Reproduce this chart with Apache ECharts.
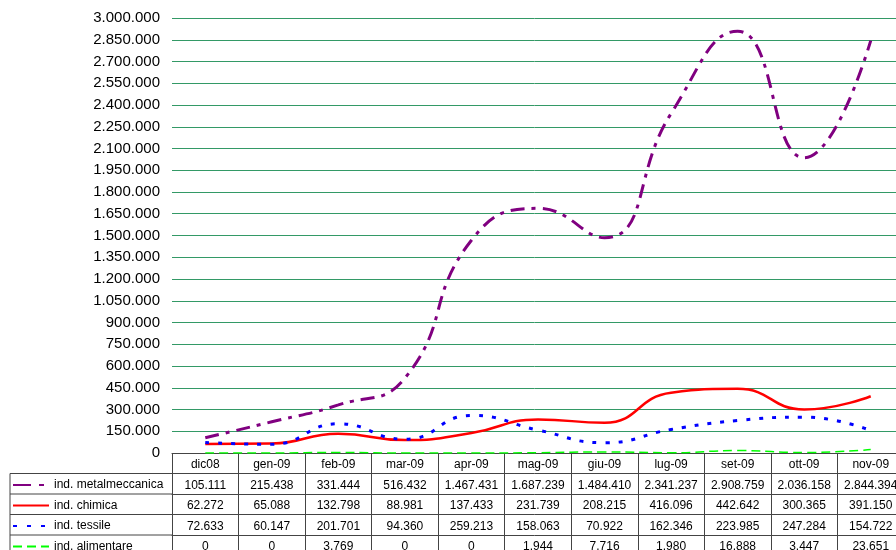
<!DOCTYPE html>
<html>
<head>
<meta charset="utf-8">
<script src="https://cdn.jsdelivr.net/npm/echarts@6/dist/echarts.min.js"></script>
<style>
  html, body { margin: 0; padding: 0; background: #fff; }
  #chart { width: 896px; height: 550px; }
</style>
</head>
<body>
<div id="chart"></div>
<script>
const categories = ['dic08', 'gen-09', 'feb-09', 'mar-09', 'apr-09', 'mag-09', 'giu-09', 'lug-09', 'set-09', 'ott-09', 'nov-09'];
const metalmeccanica = [105111, 215438, 331444, 516432, 1467431, 1687239, 1484410, 2341237, 2908759, 2036158, 2844394];
const chimica = [62272, 65088, 132798, 88981, 137433, 231739, 208215, 416096, 442642, 300365, 391150];
const tessile = [72633, 60147, 201701, 94360, 259213, 158063, 70922, 162346, 223985, 247284, 154722];
const alimentare = [0, 0, 3769, 0, 0, 1944, 7716, 1980, 16888, 3447, 23651];
const seriesNames = ['ind. metalmeccanica', 'ind. chimica', 'ind. tessile', 'ind. alimentare'];

// formato italiano: 1.467.431
function fmt(v) {
  return String(v).replace(/\B(?=(\d{3})+(?!\d))/g, '.');
}

const ROW = 20.5;
const BORDER = '#444';

const rows = [metalmeccanica, chimica, tessile, alimentare];

// asse principale (intestazione) + un asse per ogni riga della tabella
const xAxes = [{
  type: 'category',
  data: categories,
  position: 'bottom',
  axisLine: { lineStyle: { color: BORDER, width: 1 } },
  axisTick: { show: true, interval: 0, length: ROW, lineStyle: { color: BORDER } },
  axisLabel: { interval: 0, margin: 6, fontSize: 12, color: '#000', fontFamily: 'Liberation Sans' },
  splitLine: { show: false }
}];
rows.forEach((r, k) => {
  xAxes.push({
    type: 'category',
    data: r.map(fmt),
    position: 'bottom',
    offset: ROW * (k + 1),
    axisLine: { lineStyle: { color: BORDER, width: 1 } },
    axisTick: { show: true, interval: 0, length: ROW, lineStyle: { color: BORDER } },
    axisLabel: { interval: 0, margin: 6, fontSize: 12, color: '#000', fontFamily: 'Liberation Sans' },
    splitLine: { show: false }
  });
});

const chart = echarts.init(document.getElementById('chart'));
chart.setOption({
  animation: false,
  backgroundColor: '#fff',
  grid: { left: 172, top: 18, width: 732, bottom: 97, containLabel: false, outerBoundsMode: 'none' },
  legend: {
    orient: 'vertical',
    left: 12,
    top: 479,
    height: 120,
    padding: 0,
    itemWidth: 36,
    itemHeight: 12,
    itemGap: ROW - 12,
    data: [
      { name: seriesNames[0], lineStyle: { type: [18, 8, 5, 8] } },
      { name: seriesNames[1] },
      { name: seriesNames[2], lineStyle: { type: [4, 10] } },
      { name: seriesNames[3], lineStyle: { type: [9, 5] } }
    ],
    itemStyle: { opacity: 0 },
    textStyle: { fontSize: 12, color: '#000', fontFamily: 'Liberation Sans' }
  },
  xAxis: xAxes,
  yAxis: {
    type: 'value',
    min: 0,
    max: 3000000,
    interval: 150000,
    axisLine: { show: false },
    axisTick: { show: false },
    axisLabel: {
      fontSize: 15, color: '#000', margin: 12, padding: [3, 0, 0, 0],
      fontFamily: 'Liberation Sans', formatter: v => fmt(v)
    },
    splitLine: { lineStyle: { color: '#339966', width: 1 } }
  },
  graphic: [
    // bordi della colonna legenda
    { type: 'line', shape: { x1: 10, y1: 453 + ROW, x2: 172, y2: 453 + ROW }, style: { stroke: BORDER, lineWidth: 1 } },
    { type: 'line', shape: { x1: 10, y1: 453 + ROW * 2, x2: 172, y2: 453 + ROW * 2 }, style: { stroke: BORDER, lineWidth: 1 } },
    { type: 'line', shape: { x1: 10, y1: 453 + ROW * 3, x2: 172, y2: 453 + ROW * 3 }, style: { stroke: BORDER, lineWidth: 1 } },
    { type: 'line', shape: { x1: 10, y1: 453 + ROW * 4, x2: 172, y2: 453 + ROW * 4 }, style: { stroke: BORDER, lineWidth: 1 } },
    { type: 'line', shape: { x1: 10, y1: 453 + ROW, x2: 10, y2: 552 }, style: { stroke: BORDER, lineWidth: 1 } }
  ],
  series: [
    {
      name: seriesNames[0], type: 'line', data: metalmeccanica, smooth: 0.5, symbol: 'none',
      itemStyle: { color: '#800080' },
      lineStyle: { color: '#800080', width: 3, type: [14, 7, 4, 7] }
    },
    {
      name: seriesNames[1], type: 'line', data: chimica, smooth: 0.5, symbol: 'none',
      itemStyle: { color: '#ff0000' },
      lineStyle: { color: '#ff0000', width: 2.5, type: 'solid' }
    },
    {
      name: seriesNames[2], type: 'line', data: tessile, smooth: 0.5, symbol: 'none',
      itemStyle: { color: '#0000ff' },
      lineStyle: { color: '#0000ff', width: 3, type: [4, 9] }
    },
    {
      name: seriesNames[3], type: 'line', data: alimentare, smooth: 0.5, symbol: 'none',
      itemStyle: { color: '#00ff00' },
      lineStyle: { color: '#00ff00', width: 1.5, type: [9, 5] }
    }
  ]
});
</script>
</body>
</html>
